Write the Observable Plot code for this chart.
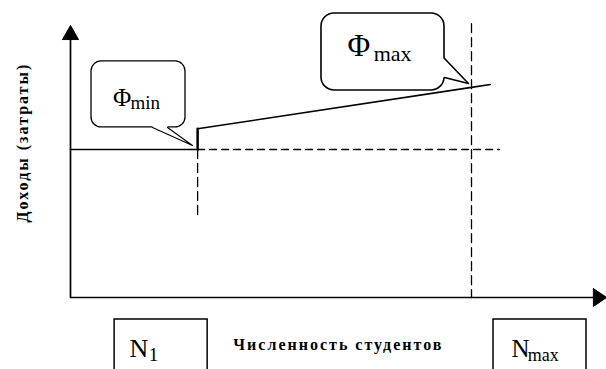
<!DOCTYPE html>
<html><head><meta charset="utf-8">
<script src="https://cdn.jsdelivr.net/npm/d3@7"></script>
<script src="https://cdn.jsdelivr.net/npm/@observablehq/plot@0.6"></script>
<style>
html,body{margin:0;padding:0;background:#fff;}
#chart svg{display:block;background:#fff;}
</style></head><body><div id="chart"></div>
<script>
// Units: students axis 0 = origin, Nmax = 100; income axis 0 = origin, Φmin level = 100
const studentLevels = [31.7, 100];            // N1, Nmax
const studentNames = ["N", "N"];
const studentSubs = ["1", "max"];
const fixedIncome = 100;                       // level of Φmin
const incomeX = [31.7, 100, 104.7];            // growing income line
const incomeY = [114, 142, 143.9];
const xAxisEnd = 130.4, xArrowTip = 133.7;
const yAxisEnd = 174.3, yArrowTip = 183.8;
const fixedDashEnd = 107;
const n1DashBottom = 54;
const nmaxDashTop = 185;
const axisTitles = ["Численность студентов", "Доходы (затраты)"];
const phiNames = ["Φ", "Φ"];
const phiSubs = ["min", "max"];

// callout geometry (data units)
const bubbles = [
  {x1: 5.24, x2: 28.68, y1: 114.9, y2: 159.5, rx: 10,
   tail: [[20.45, 114.9], [30.42, 102.7], [24.19, 114.9]],
   cover: [[20.45, 116.3], [20.45, 114.9], [30.42, 102.7], [24.19, 114.9], [24.19, 116.3]]},
  {x1: 62.59, x2: 93.27, y1: 139.9, y2: 191.9, rx: 13,
   tail: [[93.27, 161.5], [99.25, 144.6], [93.27, 148.6]],
   cover: [[92.3, 161.5], [93.27, 161.5], [99.25, 144.6], [93.27, 148.6], [92.3, 148.6]]}
];
const boxes = [
  {x1: 11.0, x2: 34.2, y1: -55, y2: -14.86},
  {x1: 105.49, x2: 128.68, y1: -55, y2: -14.86}
];

const N1 = studentLevels[0], NMAX = studentLevels[1];
const serif = "'Liberation Serif', 'Times New Roman', serif";
const line = (pts, o = {}) => Plot.line(pts, {x: d => d[0], y: d => d[1], stroke: "black", strokeWidth: 1.5, ...o});
const txt = (s, x, y, size, o = {}) => Plot.text([s], {x, y, text: d => d, fontSize: size, fontFamily: serif, textAnchor: "start", lineAnchor: "bottom", fill: "black", ...o});

const marks = [
  line([[0, fixedIncome], [N1, fixedIncome]], {strokeWidth: 1.6}),
  line([[N1, fixedIncome], [fixedDashEnd, fixedIncome]], {strokeWidth: 1.3, strokeDasharray: "7,5"}),
  line([[N1, fixedIncome], [N1, n1DashBottom]], {strokeWidth: 1.3, strokeDasharray: "9,5"}),
  line([[NMAX, nmaxDashTop], [NMAX, 0]], {strokeWidth: 1.3, strokeDasharray: "9,5"}),
  line([[N1, fixedIncome], [N1, incomeY[0]]], {strokeWidth: 2.5}),
  line(incomeX.map((x, i) => [x, incomeY[i]]), {strokeWidth: 1.6}),
  line([[0, yAxisEnd], [0, 0], [xAxisEnd, 0]], {strokeWidth: 1.7}),
  line([[-2, yAxisEnd], [0, yArrowTip], [2, yAxisEnd], [-2, yAxisEnd]], {fill: "black", strokeWidth: 1}),
  line([[xAxisEnd, 6], [xArrowTip, 0], [xAxisEnd, -6], [xAxisEnd, 6]], {fill: "black", strokeWidth: 1}),
  ...bubbles.flatMap((b, i) => [
    Plot.rect([b], {x1: "x1", x2: "x2", y1: "y1", y2: "y2", rx: b.rx, fill: "white", stroke: "black", strokeWidth: i ? 1.6 : 1.3}),
    line(b.cover, {fill: "white", stroke: "none"}),
    line(b.tail, {strokeWidth: i ? 1.6 : 1.1})
  ]),
  txt(phiNames[0], 10.6, 129.7, 25),
  txt(phiSubs[0], 14.96, 127.2, 19),
  txt(phiNames[1], 69.1, 163.5, 31),
  txt(phiSubs[1], 75.6, 160.1, 22),
  Plot.rect(boxes, {x1: "x1", x2: "x2", y1: "y1", y2: "y2", fill: "none", stroke: "black", strokeWidth: 1.5}),
  txt(studentNames[0], 14.71, -40.5, 26),
  txt(studentSubs[0], 19.5, -43.2, 19),
  txt(studentNames[1], 109.98, -39.9, 25),
  txt(studentSubs[1], 114.0, -43.2, 18),
  txt(axisTitles[0], 66.8, -35.8, 16, {fontWeight: "bold", textAnchor: "middle"}),
  txt(axisTitles[1], -11.97, 104.7, 16, {fontWeight: "bold", textAnchor: "middle", lineAnchor: "middle", rotate: -90})
];

const chart = Plot.plot({
  width: 606, height: 369, margin: 0,
  x: {domain: [0, 100], range: [70, 471], axis: null},
  y: {domain: [0, 100], range: [297, 149], axis: null},
  style: {background: "white", overflow: "hidden"},
  marks
});
d3.select(chart).selectAll("text")
  .filter(function () { return axisTitles.includes(this.textContent); })
  .style("letter-spacing", "2px");
document.getElementById("chart").append(chart);
</script></body></html>
